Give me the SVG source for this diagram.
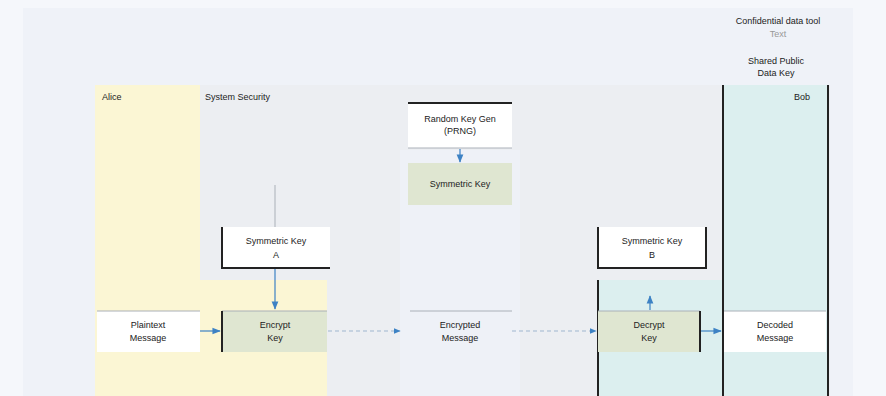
<svg xmlns="http://www.w3.org/2000/svg" width="886" height="396" viewBox="0 0 886 396">
<defs>
<style>
text{font-family:"Liberation Sans",Arial,sans-serif;font-size:9px;fill:#222}
.c{text-anchor:middle}
.g{fill:#999}
.bk{stroke:#222;stroke-width:2;fill:none}
.gl{stroke:#aab0b8;stroke-width:1;fill:none}
.ar{stroke:#3d82c4;stroke-width:1.2;fill:none}
.da{stroke:#9fb6cf;stroke-width:1;stroke-dasharray:4 3;fill:none}
.wb{fill:#ffffff}
.gb{fill:#dfe6d1}
</style>
<marker id="ah" viewBox="0 0 10 10" refX="9" refY="5" markerWidth="7" markerHeight="7" orient="auto"><path d="M0,1 L10,5 L0,9 Z" fill="#3d82c4"/></marker>
</defs>
<rect x="0" y="0" width="886" height="396" fill="#f5f7fb"/>
<rect x="23" y="8" width="830" height="388" fill="#eff2f8"/>
<g id="lanes">
<rect x="95" y="85" width="735" height="311" fill="#eceef2"/>
<rect x="400" y="150" width="120" height="246" fill="#eef1f7"/>
<rect x="95" y="85" width="105" height="311" fill="#fbf6d4"/>
<rect x="200" y="280" width="127" height="116" fill="#fbf6d4"/>
<rect x="723" y="85" width="105" height="311" fill="#dcefef"/>
<rect x="597" y="280" width="126" height="116" fill="#dcefef"/>
<line class="bk" x1="723" y1="85" x2="723" y2="396"/>
<line class="bk" x1="828" y1="85" x2="828" y2="396"/>
<line class="bk" x1="598" y1="280" x2="598" y2="396"/>
<text x="102" y="100">Alice</text>
<text x="205" y="100">System Security</text>
<text x="810" y="100" text-anchor="end">Bob</text>
</g>
<g id="legend">
<text class="c" x="778" y="24">Confidential data tool</text>
<text class="c g" x="778" y="37">Text</text>
<text class="c" x="776" y="64">Shared Public</text>
<text class="c" x="776" y="76">Data Key</text>
</g>
<g id="keygen">
<rect class="wb" x="408" y="103" width="104" height="45"/>
<line class="bk" x1="408" y1="103" x2="512" y2="103"/>
<line class="gl" x1="408" y1="148" x2="512" y2="148"/>
<text class="c" x="460" y="122">Random Key Gen</text>
<text class="c" x="460" y="134">(PRNG)</text>
</g>
<g id="symkey">
<rect class="gb" x="408" y="163" width="104" height="42"/>
<text class="c" x="460" y="187">Symmetric Key</text>
</g>
<g id="keyA">
<rect class="wb" x="222" y="227" width="108" height="41"/>
<path class="bk" d="M222,227 V268 H330"/>
<text class="c" x="276" y="244">Symmetric Key</text>
<text class="c" x="276" y="258">A</text>
</g>
<g id="keyB">
<rect class="wb" x="598" y="227" width="108" height="41"/>
<path class="bk" d="M598,227 V268 H706 V227"/>
<text class="c" x="652" y="244">Symmetric Key</text>
<text class="c" x="652" y="258">B</text>
</g>
<g id="plain">
<rect class="wb" x="97" y="311" width="103" height="41"/>
<line class="gl" x1="97" y1="311" x2="200" y2="311"/>
<text class="c" x="148" y="328">Plaintext</text>
<text class="c" x="148" y="341">Message</text>
</g>
<g id="encrypt">
<rect class="gb" x="222" y="311" width="105" height="41"/>
<line class="gl" x1="222" y1="311" x2="327" y2="311"/>
<line class="bk" x1="222" y1="311" x2="222" y2="352"/>
<text class="c" x="275" y="328">Encrypt</text>
<text class="c" x="275" y="341">Key</text>
</g>
<g id="cipher">
<line class="gl" x1="410" y1="311" x2="512" y2="311"/>
<text class="c" x="460" y="328">Encrypted</text>
<text class="c" x="460" y="341">Message</text>
</g>
<g id="decrypt">
<rect class="gb" x="598" y="311" width="102" height="41"/>
<line class="gl" x1="598" y1="311" x2="700" y2="311"/>
<line class="bk" x1="700" y1="311" x2="700" y2="352"/>
<text class="c" x="649" y="328">Decrypt</text>
<text class="c" x="649" y="341">Key</text>
</g>
<g id="decoded">
<rect class="wb" x="724" y="311" width="102" height="41"/>
<line class="gl" x1="724" y1="311" x2="826" y2="311"/>
<text class="c" x="775" y="328">Decoded</text>
<text class="c" x="775" y="341">Message</text>
</g>
<g id="connectors">
<line class="gl" x1="275" y1="185" x2="275" y2="227"/>
<line class="ar" x1="460" y1="149" x2="460" y2="162" marker-end="url(#ah)"/>
<line class="ar" x1="275" y1="269" x2="275" y2="309" marker-end="url(#ah)"/>
<line class="ar" x1="650" y1="310" x2="650" y2="296" marker-end="url(#ah)"/>
<line class="ar" x1="200" y1="331" x2="220" y2="331" marker-end="url(#ah)"/>
<line class="da" x1="328" y1="331" x2="400" y2="331" marker-end="url(#ah)"/>
<line class="da" x1="512" y1="331" x2="596" y2="331" marker-end="url(#ah)"/>
<line class="ar" x1="701" y1="331" x2="721" y2="331" marker-end="url(#ah)"/>
</g>
</svg>
